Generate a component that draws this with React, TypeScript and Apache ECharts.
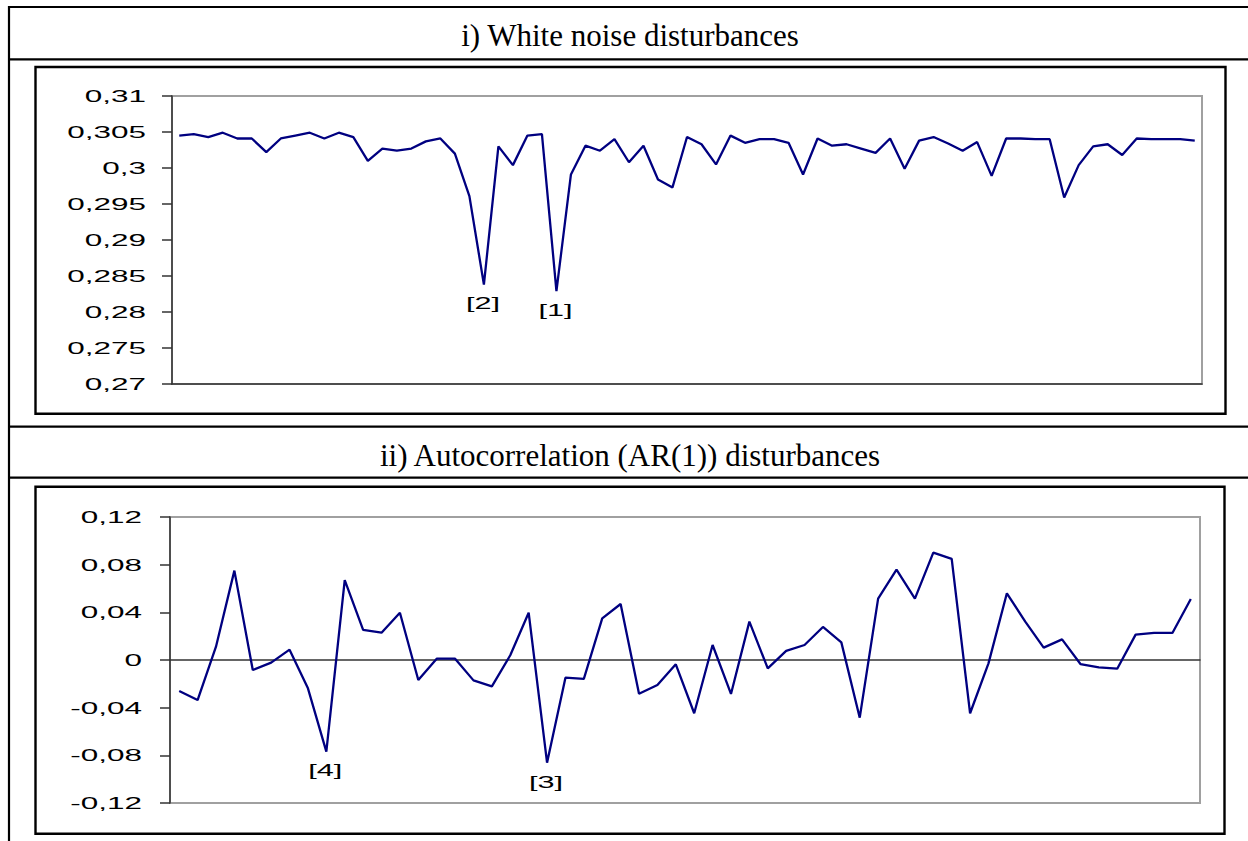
import React, { useEffect, useRef } from "react";
import * as echarts from "echarts";

// ---------- data ----------
const panelTitles = [
  "i) White noise disturbances",
  "ii) Autocorrelation (AR(1)) disturbances",
];

const whiteNoiseValues = [
  0.3045, 0.3047, 0.3043, 0.3049, 0.3041, 0.3041, 0.3022, 0.3041, 0.3045, 0.3049,
  0.3041, 0.3049, 0.3043, 0.301, 0.3027, 0.3024, 0.3027, 0.3037, 0.3041, 0.302,
  0.2961, 0.2838, 0.303, 0.3004, 0.3045, 0.3047, 0.2829, 0.2991, 0.3031, 0.3024,
  0.304, 0.3008, 0.3031, 0.2984, 0.2973, 0.3043, 0.3033, 0.3005, 0.3045, 0.3035,
  0.304, 0.304, 0.3035, 0.2991, 0.3041, 0.3031, 0.3033, 0.3027, 0.3021, 0.3041,
  0.2999, 0.3038, 0.3043, 0.3034, 0.3024, 0.3036, 0.2989, 0.3041, 0.3041, 0.304,
  0.304, 0.2959, 0.3004, 0.303, 0.3033, 0.3018, 0.3041, 0.304, 0.304, 0.304,
  0.3038,
];
const whiteNoiseCategories = whiteNoiseValues.map((_, i) => String(i + 1));
const whiteNoiseTicks = [0.27, 0.275, 0.28, 0.285, 0.29, 0.295, 0.3, 0.305, 0.31];
const whiteNoiseOutliers = [
  { index: 26, label: "[1]" },
  { index: 21, label: "[2]" },
];

const arValues = [
  -0.026, -0.0336, 0.0112, 0.075, -0.0084, -0.0022, 0.0087, -0.0238, -0.0769, 0.0671,
  0.0252, 0.0229, 0.0397, -0.0168, 0.0011, 0.0011, -0.0171, -0.0221, 0.004, 0.0397,
  -0.0862, -0.0148, -0.0159, 0.035, 0.047, -0.0283, -0.021, -0.0036, -0.0447, 0.0126,
  -0.0285, 0.0322, -0.007, 0.0076, 0.0126, 0.0277, 0.0148, -0.0484, 0.0515, 0.0758,
  0.0515, 0.0901, 0.0848, -0.0447, -0.0028, 0.056, 0.0322, 0.0104, 0.0173, -0.0034,
  -0.0062, -0.0073, 0.0213, 0.0227, 0.0227, 0.0512,
];
const arCategories = arValues.map((_, i) => String(i + 1));
const arTicks = [-0.12, -0.08, -0.04, 0, 0.04, 0.08, 0.12];
const arOutliers = [
  { index: 20, label: "[3]" },
  { index: 8, label: "[4]" },
];

// ---------- style ----------
const SANS = '"Liberation Sans", Arial, Helvetica, sans-serif';
const SERIF = '"Liberation Serif", "Times New Roman", serif';
const LINE_COLOR = "#000080";
const AXIS_COLOR = "#333333";
const BORDER_GREY = "#a0a0a0";
const STRETCH = 1.85;

const fmt = (v: number) => String(+v.toFixed(3)).replace(".", ",");

const GRID1 = { left: 172, top: 96, width: 1030, height: 288 };
const GRID2 = { left: 170, top: 517, width: 1030, height: 286 };

export default function App() {
  const ref = useRef<HTMLDivElement>(null);

  useEffect(() => {
    if (!ref.current) return;
    const chart = echarts.init(ref.current, undefined, { renderer: "svg" });

    const yAxisCommon = {
      type: "value",
      axisLine: { show: true, lineStyle: { color: AXIS_COLOR, width: 1.5 } },
      axisTick: { show: true, length: 10, lineStyle: { color: AXIS_COLOR, width: 1.5 } },
      axisLabel: { show: false },
      splitLine: { show: false },
    };
    const xAxisCommon = {
      type: "category",
      boundaryGap: true,
      axisTick: { show: false },
      axisLabel: { show: false },
      splitLine: { show: false },
      axisLine: { show: true, onZero: true, lineStyle: { color: AXIS_COLOR, width: 1.5 } },
    };

    chart.setOption({
      animation: false,
      backgroundColor: "#ffffff",
      grid: [
        { ...GRID1, show: true, borderColor: BORDER_GREY, borderWidth: 2, backgroundColor: "transparent" },
        { ...GRID2, show: true, borderColor: BORDER_GREY, borderWidth: 2, backgroundColor: "transparent" },
      ],
      xAxis: [
        { ...xAxisCommon, gridIndex: 0, data: whiteNoiseCategories },
        { ...xAxisCommon, gridIndex: 1, data: arCategories },
      ],
      yAxis: [
        { ...yAxisCommon, gridIndex: 0, min: 0.27, max: 0.31, interval: 0.005 },
        { ...yAxisCommon, gridIndex: 1, min: -0.12, max: 0.12, interval: 0.04 },
      ],
      series: [
        {
          type: "line",
          xAxisIndex: 0,
          yAxisIndex: 0,
          data: whiteNoiseValues,
          symbol: "none",
          lineStyle: { color: LINE_COLOR, width: 2.3 },
          z: 5,
        },
        {
          type: "line",
          xAxisIndex: 1,
          yAxisIndex: 1,
          data: arValues,
          symbol: "none",
          lineStyle: { color: LINE_COLOR, width: 2.3 },
          z: 5,
        },
      ],
    });

    const els: any[] = [];
    const stroke = { stroke: "#000", lineWidth: 2.2, fill: "none" };
    // table lines
    els.push({ type: "line", shape: { x1: 9, y1: 7, x2: 1248, y2: 7 }, style: stroke });
    els.push({ type: "line", shape: { x1: 9, y1: 6, x2: 9, y2: 841 }, style: stroke });
    els.push({ type: "line", shape: { x1: 9, y1: 59.3, x2: 1248, y2: 59.3 }, style: stroke });
    els.push({ type: "line", shape: { x1: 9, y1: 426.7, x2: 1248, y2: 426.7 }, style: stroke });
    els.push({ type: "line", shape: { x1: 9, y1: 477.7, x2: 1248, y2: 477.7 }, style: stroke });
    // chart frames
    els.push({ type: "rect", shape: { x: 35.5, y: 67, width: 1190, height: 346.7 }, style: { ...stroke, lineWidth: 2.4 } });
    els.push({ type: "rect", shape: { x: 35.5, y: 486.7, width: 1189, height: 347 }, style: { ...stroke, lineWidth: 2.4 } });
    // panel titles
    const titleY = [35, 455];
    panelTitles.forEach((t, i) => {
      els.push({
        type: "text",
        x: 630,
        y: titleY[i],
        style: {
          text: t,
          fontFamily: SERIF,
          fontSize: 31,
          fill: "#000",
          align: "center",
          verticalAlign: "middle",
        },
      });
    });

    // y tick labels (stretched like the reference), positioned by the axis scale
    const addTicks = (ticks: number[], axisIndex: number, rightX: number) => {
      ticks.forEach((v) => {
        const y = chart.convertToPixel({ yAxisIndex: axisIndex }, v) as number;
        els.push({
          type: "text",
          x: rightX,
          y,
          scaleX: STRETCH,
          style: {
            text: fmt(v),
            fontFamily: SANS,
            fontSize: 17,
            fill: "#000",
            align: "right",
            verticalAlign: "middle",
          },
        });
      });
    };
    addTicks(whiteNoiseTicks, 0, GRID1.left - 26);
    addTicks(arTicks, 1, GRID2.left - 28);

    // outlier labels under the marked points
    const addOutliers = (list: { index: number; label: string }[], seriesIndex: number, values: number[]) => {
      list.forEach((o) => {
        const p = chart.convertToPixel({ seriesIndex }, [o.index, values[o.index]]) as number[];
        els.push({
          type: "text",
          x: p[0] - 1,
          y: p[1] + 19,
          scaleX: 1.8,
          style: {
            text: o.label,
            fontFamily: SANS,
            fontSize: 17,
            fill: "#000",
            align: "center",
            verticalAlign: "middle",
          },
        });
      });
    };
    addOutliers(whiteNoiseOutliers, 0, whiteNoiseValues);
    addOutliers(arOutliers, 1, arValues);

    chart.setOption({ graphic: { elements: els } });

    return () => chart.dispose();
  }, []);

  return (
    <div
      ref={ref}
      style={{ position: "fixed", left: 0, top: 0, width: 1248, height: 841, background: "#fff" }}
    />
  );
}
